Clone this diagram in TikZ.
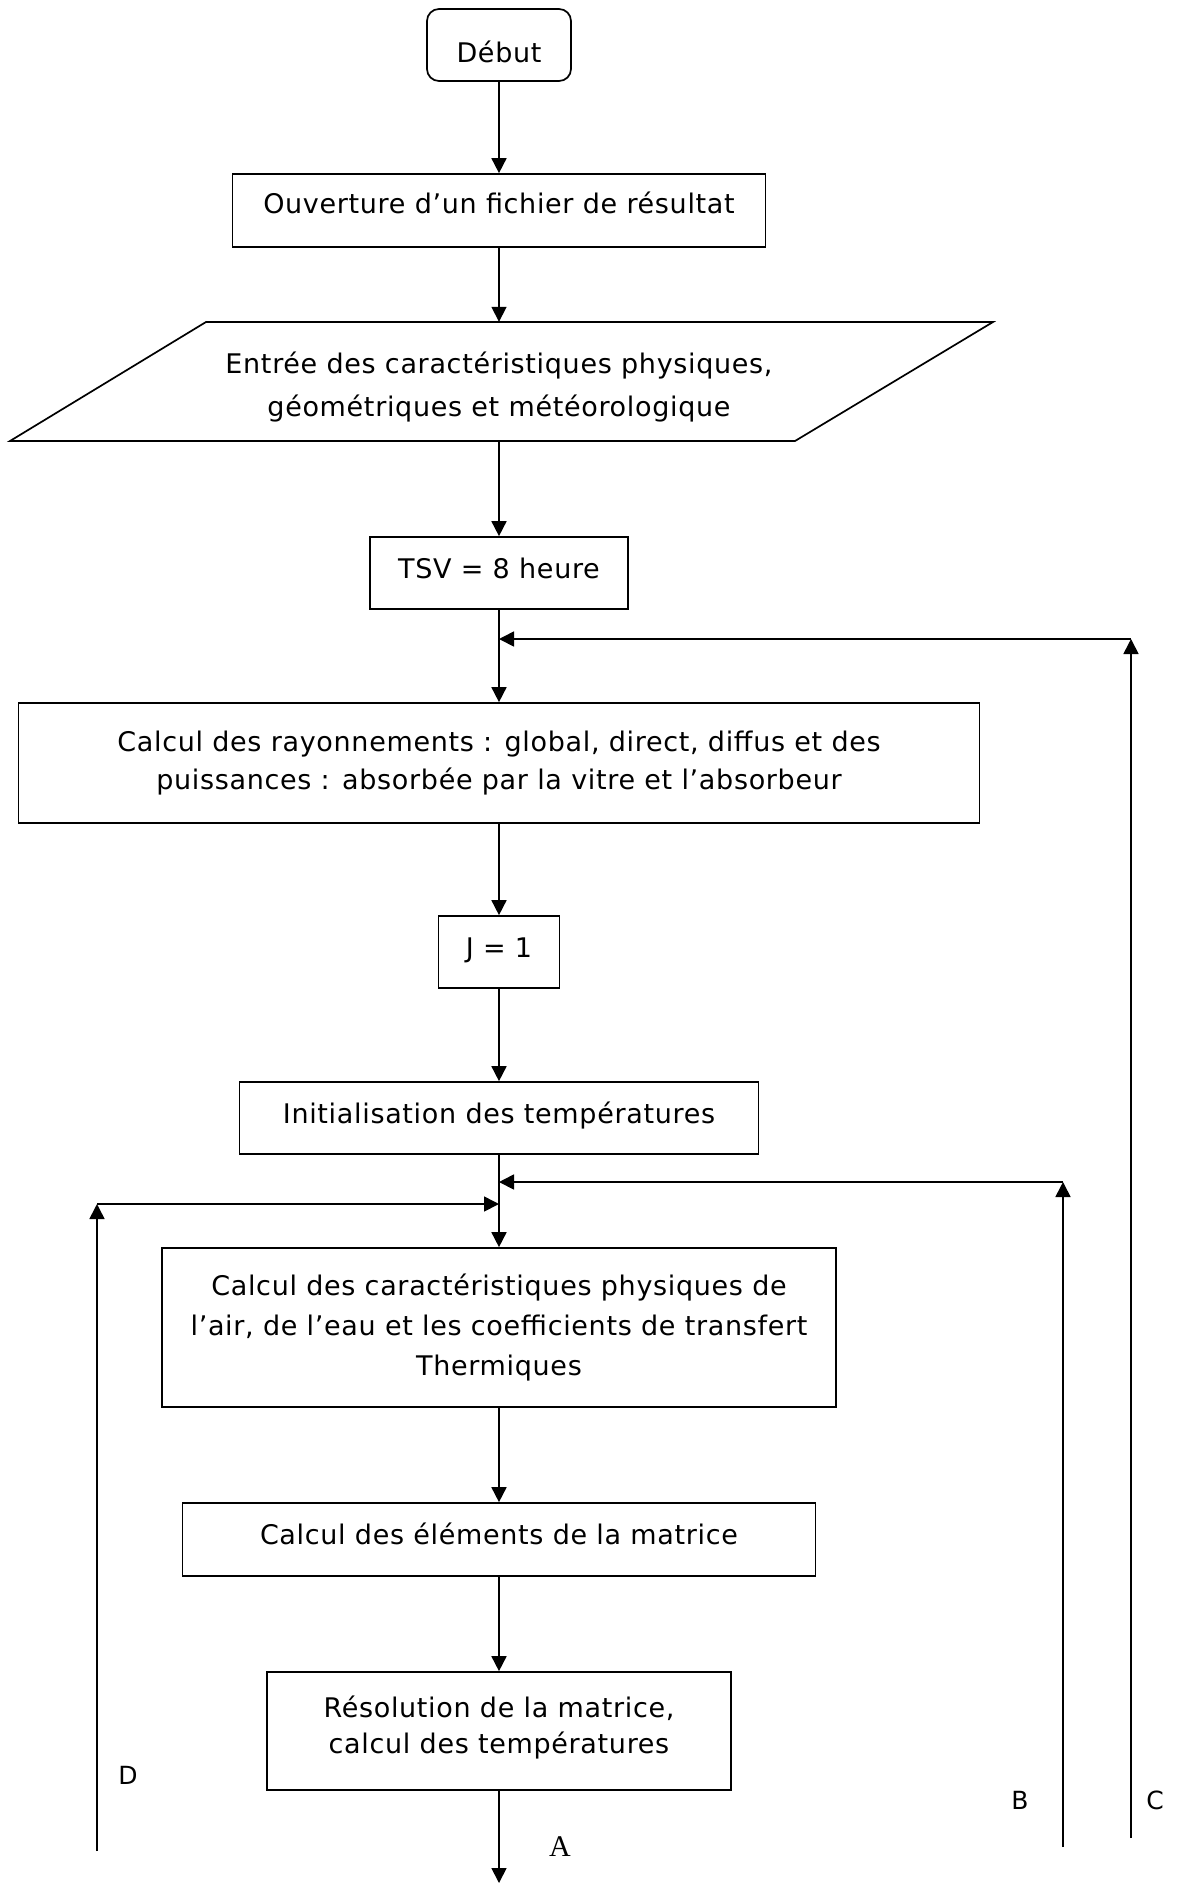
\documentclass[tikz,border=0pt]{standalone}
\usepackage{fontspec}
\setmainfont{DejaVu Sans}[LetterSpace=2.5]
\newfontfamily\serifA{Liberation Serif}
\usetikzlibrary{arrows.meta}
\begin{document}
\begin{tikzpicture}[x=1pt,y=1pt,
  box/.style={draw, line width=1.7pt, inner sep=0pt, align=center, font=\fontsize{27}{38}\selectfont},
  oneline/.style={text height=20pt, text depth=10pt},
  flow/.style={line width=1.7pt, -{Triangle[length=15pt,width=15pt]}},
  lbl/.style={font=\fontsize{25}{30}\selectfont, inner sep=0pt},
  parabody/.style={line width=1.7pt}
]
\useasboundingbox (0,0) rectangle (1178,-1883);

\node[box, rounded corners=12pt, text height=34pt, text depth=0pt, minimum width=144pt, minimum height=72pt] (debut) at (499,-45) {Début};
\node[box, oneline, text height=21pt, text depth=16pt, minimum width=533pt, minimum height=73pt] (ouv) at (499,-210.5) {Ouverture d’un fichier de résultat};
\node[inner sep=0pt, minimum width=589pt, minimum height=119pt, font=\fontsize{27}{43}\selectfont] (para) at (499,-381.5)
  {\raisebox{0pt}[\dimexpr\height+10pt\relax][\depth]{\begin{tabular}{@{}c@{}}Entrée des caractéristiques physiques,\\géométriques et météorologique\end{tabular}}};
\draw[parabody] (206,-322) -- (993,-322) -- (795,-441) -- (10,-441) -- cycle;
\node[box, oneline, minimum width=258pt, minimum height=72pt] (tsv) at (499,-573) {TSV = 8 heure};
\node[box, minimum width=961pt, minimum height=120pt] (ray) at (499,-763) {Calcul des rayonnements : global, direct, diffus et des\\puissances : absorbée par la vitre et l’absorbeur};
\node[box, oneline, minimum width=121pt, minimum height=72pt] (j1) at (499,-952) {J = 1};
\node[box, oneline, minimum width=519pt, minimum height=72pt] (init) at (499,-1118) {Initialisation des températures};
\node[box, font=\fontsize{27}{40}\selectfont, minimum width=674pt, minimum height=159pt] (carac) at (499,-1327.5) {Calcul des caractéristiques physiques de\\l’air, de l’eau et les coefficients de transfert\\Thermiques};
\node[box, oneline, minimum width=633pt, minimum height=73pt] (mat) at (499,-1539.5) {Calcul des éléments de la matrice};
\node[draw, line width=1.7pt, inner sep=0pt, font=\fontsize{27}{36}\selectfont, minimum width=464pt, minimum height=118pt] (res) at (499,-1731)
  {\raisebox{0pt}[\height][\dimexpr\depth+6pt\relax]{\begin{tabular}{@{}c@{}}Résolution de la matrice,\\calcul des températures\end{tabular}}};

\draw[flow] (debut) -- (ouv);
\draw[flow] (ouv) -- (para);
\draw[flow] (para) -- (tsv);
\draw[flow] (tsv) -- (ray);
\draw[flow] (ray) -- (j1);
\draw[flow] (j1) -- (init);
\draw[flow] (init) -- (carac);
\draw[flow] (carac) -- (mat);
\draw[flow] (mat) -- (res);

\coordinate (aEnd) at (499,-1883);
\draw[flow] (res) -- (aEnd);

\coordinate (cBot) at (1131,-1838);
\coordinate (cTop) at (1131,-639);
\coordinate (cJoin) at (499,-639);
\draw[flow] (cBot) -- (cTop);
\draw[flow] (cTop) -- (cJoin);

\coordinate (bBot) at (1063,-1847);
\coordinate (bTop) at (1063,-1182);
\coordinate (bJoin) at (499,-1182);
\draw[flow] (bBot) -- (bTop);
\draw[flow] (bTop) -- (bJoin);

\coordinate (dBot) at (97,-1851);
\coordinate (dTop) at (97,-1204);
\coordinate (dJoin) at (499,-1204);
\draw[flow] (dBot) -- (dTop);
\draw[flow] (dTop) -- (dJoin);

\node[lbl] (labD) at (128,-1775) {D};
\node[lbl] (labB) at (1020,-1800) {B};
\node[lbl] (labC) at (1155,-1800) {C};
\node[inner sep=0pt, font=\serifA\fontsize{30}{30}\selectfont] (labA) at (560,-1847) {A};
\end{tikzpicture}
\end{document}
